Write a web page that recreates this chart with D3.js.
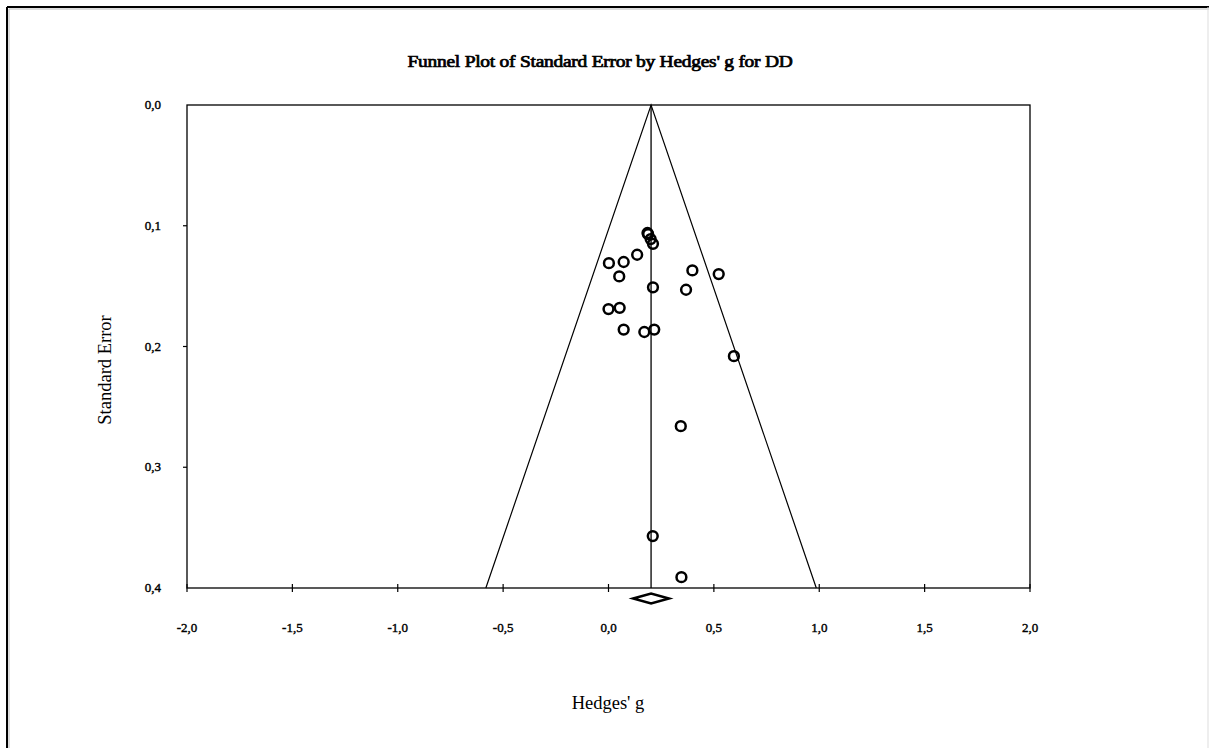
<!DOCTYPE html>
<html><head><meta charset="utf-8">
<script src="https://cdn.jsdelivr.net/npm/d3@7"></script>
<style>html,body{margin:0;padding:0;background:#fff;}svg{display:block;}</style>
</head><body>
<script>
const titleText = "Funnel Plot of Standard Error by Hedges' g for DD";
const xLabel = "Hedges' g";
const yLabel = "Standard Error";
const xTicks = [-2.0, -1.5, -1.0, -0.5, 0.0, 0.5, 1.0, 1.5, 2.0];
const yTicks = [0.0, 0.1, 0.2, 0.3, 0.4];
const effects = [0.185, 0.188, 0.200, 0.211, 0.136, 0.002, 0.072, 0.051, 0.398, 0.523, 0.211, 0.368, 0.0, 0.053, 0.072, 0.170, 0.217, 0.595, 0.343, 0.210, 0.346];
const stdErrors = [0.106, 0.107, 0.111, 0.115, 0.124, 0.131, 0.130, 0.142, 0.137, 0.140, 0.151, 0.153, 0.169, 0.168, 0.186, 0.188, 0.186, 0.208, 0.266, 0.357, 0.391];
const meanEffect = 0.202;
const ciLower = 0.117;
const ciUpper = 0.287;
const z = 1.96;

const W = 1209, H = 748;
const svg = d3.select("body").append("svg").attr("width", W).attr("height", H);
const L = 187, R = 1030, T = 105, B = 588;
const x = d3.scaleLinear().domain([-2, 2]).range([L, R]);
const y = d3.scaleLinear().domain([0, 0.4]).range([T, B]);
const fmt = d => d3.format(".1f")(d).replace(".", ",").replace("\u2212", "-");
const serif = "'Liberation Serif', 'DejaVu Serif', serif";

// outer frame
svg.append("line").attr("x1", 7).attr("y1", 7).attr("x2", W).attr("y2", 7).attr("stroke", "#000").attr("stroke-width", 2);
svg.append("line").attr("x1", 7).attr("y1", 7).attr("x2", 7).attr("y2", H).attr("stroke", "#000").attr("stroke-width", 2);
svg.append("line").attr("x1", 9).attr("y1", 9).attr("x2", W).attr("y2", 9).attr("stroke", "#bbb").attr("stroke-width", 1);
svg.append("line").attr("x1", 9).attr("y1", 9).attr("x2", 9).attr("y2", H).attr("stroke", "#bbb").attr("stroke-width", 1);
svg.append("line").attr("x1", W - 1).attr("y1", 7).attr("x2", W - 1).attr("y2", H).attr("stroke", "#ddd").attr("stroke-width", 1);

// title (faux bold)
svg.append("text").attr("x", 600).attr("y", 67).attr("text-anchor", "middle")
  .attr("font-family", serif).attr("font-weight", "normal").attr("font-size", 16)
  .attr("stroke", "#000").attr("stroke-width", 0.7).attr("letter-spacing", -0.2)
  .attr("textLength", 385).attr("lengthAdjust", "spacingAndGlyphs").text(titleText);

// plot box
svg.append("rect").attr("x", L).attr("y", T).attr("width", R - L).attr("height", B - T)
  .attr("fill", "none").attr("stroke", "#000").attr("stroke-width", 1.3);

// funnel
const funnel = [[meanEffect - z * 0.4, 0.4], [meanEffect, 0], [meanEffect + z * 0.4, 0.4]];
svg.append("path").attr("d", d3.line().x(d => x(d[0])).y(d => y(d[1]))(funnel))
  .attr("fill", "none").attr("stroke", "#000").attr("stroke-width", 1.2);
svg.append("line").attr("x1", x(meanEffect)).attr("x2", x(meanEffect)).attr("y1", y(0)).attr("y2", y(0.4))
  .attr("stroke", "#000").attr("stroke-width", 1.3);

// x axis ticks
svg.selectAll(".xt").data(xTicks).enter().append("line")
  .attr("x1", d => x(d)).attr("x2", d => x(d)).attr("y1", B - 4).attr("y2", B + 4)
  .attr("stroke", "#000").attr("stroke-width", 1.2);
svg.selectAll(".xl").data(xTicks).enter().append("text")
  .attr("x", d => x(d)).attr("y", 632).attr("text-anchor", "middle")
  .attr("font-family", serif).attr("font-size", 13)
  .attr("stroke", "#000").attr("stroke-width", 0.4).text(fmt);

// y axis ticks
svg.selectAll(".yt").data(yTicks.slice(1, -1)).enter().append("line")
  .attr("x1", L - 4).attr("x2", L).attr("y1", d => y(d)).attr("y2", d => y(d))
  .attr("stroke", "#000").attr("stroke-width", 1.2);
svg.selectAll(".yl").data(yTicks).enter().append("text")
  .attr("x", 161).attr("y", d => y(d) + 4).attr("text-anchor", "end")
  .attr("font-family", serif).attr("font-size", 13)
  .attr("stroke", "#000").attr("stroke-width", 0.4).text(fmt);

// axis labels
svg.append("text").attr("x", 608).attr("y", 709).attr("text-anchor", "middle")
  .attr("font-family", serif).attr("font-size", 18.5).text(xLabel);
svg.append("text").attr("transform", "translate(111,370) rotate(-90)").attr("text-anchor", "middle")
  .attr("font-family", serif).attr("font-size", 18.5).text(yLabel);

// points
svg.selectAll(".pt").data(effects.map((e, i) => [e, stdErrors[i]])).enter().append("circle")
  .attr("cx", d => x(d[0])).attr("cy", d => y(d[1])).attr("r", 4.9)
  .attr("fill", "none").attr("stroke", "#000").attr("stroke-width", 2.5);

// diamond
const dy = 598.5;
const diamond = [[ciLower, 0], [meanEffect, -1], [ciUpper, 0], [meanEffect, 1]];
svg.append("path").attr("d", "M" + diamond.map(d => [x(d[0]), dy + d[1] * 5].join(",")).join("L") + "Z")
  .attr("fill", "#fff").attr("stroke", "#000").attr("stroke-width", 2.5).attr("stroke-linejoin", "miter");
</script>
</body></html>
